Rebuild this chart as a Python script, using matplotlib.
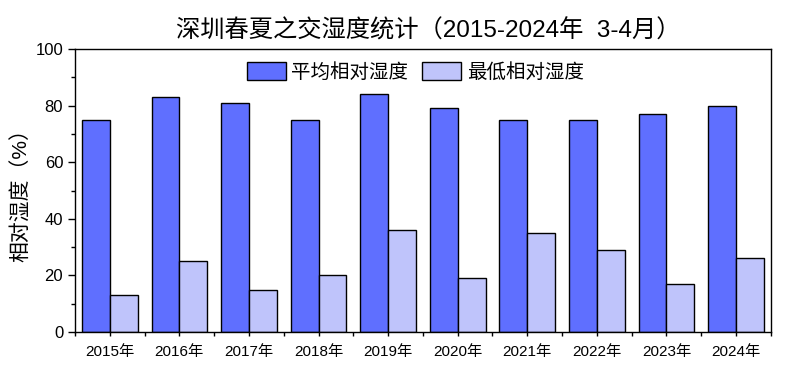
import numpy as np
import matplotlib.pyplot as plt
from matplotlib.ticker import MultipleLocator, FixedLocator

plt.rcParams['font.family'] = ['Liberation Sans', 'Noto Sans CJK SC', 'DejaVu Sans']

years = ['2015年', '2016年', '2017年', '2018年', '2019年',
         '2020年', '2021年', '2022年', '2023年', '2024年']
avg_rh = [75, 83, 81, 75, 84, 79, 75, 75, 77, 80]
min_rh = [13, 25, 15, 20, 36, 19, 35, 29, 17, 26]

x = np.arange(len(years))
w = 0.4

fig = plt.figure(figsize=(7.89, 3.71), dpi=100)
ax = fig.add_axes([0.095, 0.105, 0.882, 0.763])

ax.bar(x - w / 2, avg_rh, w, color='#5F6FFF', edgecolor='black', linewidth=1, label='平均相对湿度')
ax.bar(x + w / 2, min_rh, w, color='#BFC4FB', edgecolor='black', linewidth=1, label='最低相对湿度')

ax.set_xlim(-0.5, 9.5)
ax.set_ylim(0, 100)
ax.set_xticks(x)
ax.set_xticklabels(years, fontsize=11)
ax.xaxis.set_minor_locator(FixedLocator(np.arange(-0.5, 10, 1)))
ax.yaxis.set_major_locator(MultipleLocator(20))
ax.yaxis.set_minor_locator(MultipleLocator(10))
ax.tick_params(axis='y', which='major', length=5, width=1, labelsize=12, direction='out')
ax.tick_params(axis='y', which='minor', length=3, width=1)
ax.tick_params(axis='x', which='both', length=3, width=1, direction='out', pad=6)
for s in ax.spines.values():
    s.set_linewidth(1)

ax.set_ylabel('相对湿度（%）', fontsize=15, labelpad=3)
ax.set_title('深圳春夏之交湿度统计（2015-2024年  3-4月）', fontsize=17.5, pad=8, x=0.507)

ax.legend(loc='center', bbox_to_anchor=(0.489, 0.919), ncol=2, frameon=False,
          fontsize=14, handlelength=2.0, handleheight=1.0,
          handletextpad=0.3, columnspacing=0.7)

fig.savefig('out.png', dpi=100)
